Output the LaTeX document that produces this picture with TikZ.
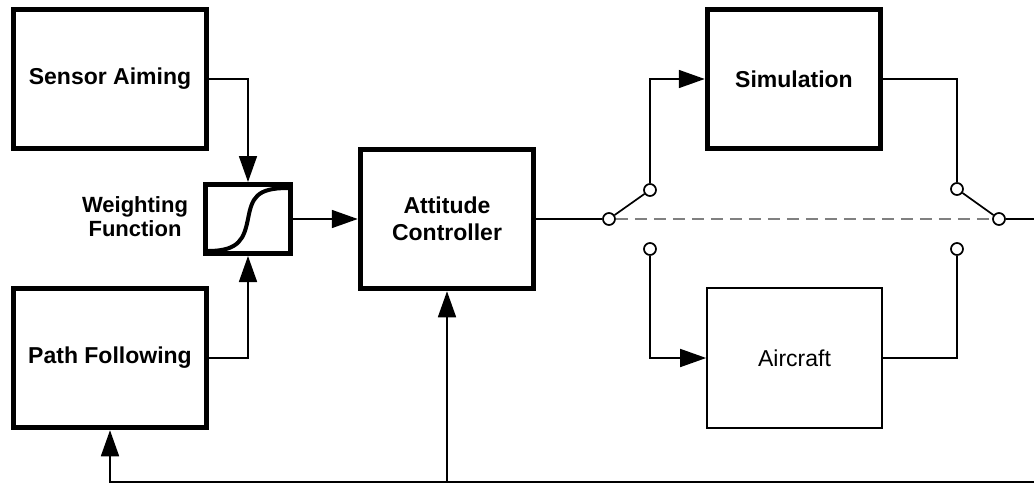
\documentclass[tikz,border=0pt]{standalone}
\usepackage{fontspec}
\setmainfont{Liberation Sans}
\usetikzlibrary{arrows.meta, positioning}

\begin{document}
\begin{tikzpicture}[x=1pt, y=-1pt,
  block/.style={draw, line width=5.5pt, font=\fontsize{23}{27}\selectfont\bfseries,
    align=center, inner sep=0pt, minimum width=193pt, minimum height=139pt},
  plant/.style={draw, line width=1.7pt, font=\fontsize{23}{27}\selectfont,
    inner sep=0pt, minimum width=175pt, minimum height=140pt},
  wire/.style={line width=1.7pt},
  sig/.style={wire, -{Triangle[length=26pt, width=18pt]}},
  port/.style={circle, draw, fill=white, line width=1.7pt, minimum size=12pt, inner sep=0pt}]
  \useasboundingbox (0,0) rectangle (1034,485);
  % Guidance blocks
  \node[block] (sa) at (110,79) {Sensor Aiming};
  \node[block] (pf) at (110,358) {Path Following};
  \node[draw, line width=5pt, minimum width=85pt, minimum height=69pt, inner sep=0pt] (wf) at (248,219) {};
  \draw[line width=4pt] (208,251) .. controls (240,251) and (244,238) .. (248,219)
    .. controls (252,198) and (256,188) .. (288,188);
  \node[font=\fontsize{22}{24}\selectfont\bfseries, align=center] (wflabel) at (135,217) {Weighting\\Function};
  % Controller and plants
  \node[block, minimum width=173pt] (ac) at (447,219) {Attitude\\Controller};
  \node[block, minimum width=173pt] (sim) at (794,79) {Simulation};
  \node[plant] (air) at (794.5,358) {Aircraft};
  % Switches
  \node[port] (sw1) at (609,219) {};
  \node[port] (sw1a) at (650,190) {};
  \node[port] (sw1b) at (650,249) {};
  \node[port] (sw2a) at (957,189) {};
  \node[port] (sw2b) at (957,249) {};
  \node[port] (sw2) at (999,219) {};
  \coordinate (out) at (1034,219);
  \coordinate (fb) at (1034,482);
  % Signals
  \draw[sig] (sa.east) -| (wf.north);
  \draw[sig] (pf.east) -| (wf.south);
  \draw[sig] (wf.east) -- (ac.west);
  \draw[wire] (ac.east) -- (sw1);
  \draw[wire] (sw1) -- (sw1a);
  \draw[sig] (sw1a) |- (sim.west);
  \draw[sig] (sw1b) |- (air.west);
  \draw[wire] (sim.east) -| (sw2a);
  \draw[wire] (air.east) -| (sw2b);
  \draw[wire] (sw2a) -- (sw2);
  \draw[wire] (sw2) -- (out);
  \draw[wire, gray, dash pattern=on 12pt off 7pt] (sw1) -- (sw2);
  % Feedback
  \draw[sig] (fb) -| (pf.south);
  \draw[sig] (ac.south |- fb) -- (ac.south);
\end{tikzpicture}
\end{document}
